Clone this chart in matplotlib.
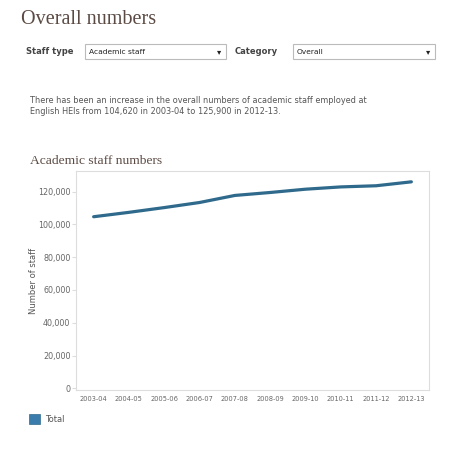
import matplotlib.pyplot as plt
from matplotlib.patches import Rectangle
from matplotlib.ticker import FuncFormatter

# data
years = ['2003-04', '2004-05', '2005-06', '2006-07', '2007-08',
         '2008-09', '2009-10', '2010-11', '2011-12', '2012-13']
total = [104620, 107300, 110200, 113300, 117600,
         119400, 121400, 122800, 123500, 125900]
y_ticks = [0, 20000, 40000, 60000, 80000, 100000, 120000]

W, H = 457, 450
fig = plt.figure(figsize=(W / 100, H / 100), dpi=100)
fig.patch.set_facecolor('white')

def fx(px):
    return px / W

def fy(py):
    return 1 - py / H

brown = '#5b4a43'
grey_txt = '#555555'

# heading
fig.text(fx(21), fy(24), 'Overall numbers', family='Liberation Serif', fontsize=14.5,
         color=brown, va='baseline')

# dropdown controls
fig.text(fx(26), fy(54), 'Staff type', fontsize=6.0, fontweight='bold', color='#444444', va='baseline')
fig.text(fx(235), fy(54), 'Category', fontsize=6.0, fontweight='bold', color='#444444', va='baseline')
for x0, x1, label in [(85, 226, 'Academic staff'), (293, 435, 'Overall')]:
    fig.patches.append(Rectangle((fx(x0), fy(59)), fx(x1 - x0), (59 - 44) / H,
                                 transform=fig.transFigure, facecolor='white',
                                 edgecolor='#bbbbbb', lw=0.8))
    fig.text(fx(x0 + 4), fy(54.5), label, fontsize=5.4, color='#222222', va='baseline')
    fig.text(fx(x1 - 9), fy(54), '\u25BE', fontsize=6, color='#222222', va='baseline')

# description
fig.text(fx(30), fy(103), 'There has been an increase in the overall numbers of academic staff employed at',
         fontsize=5.9, color=grey_txt, va='baseline')
fig.text(fx(30), fy(113.5), 'English HEIs from 104,620 in 2003-04 to 125,900 in 2012-13.',
         fontsize=5.9, color=grey_txt, va='baseline')

# chart title
fig.text(fx(30), fy(164), 'Academic staff numbers', family='Liberation Serif', fontsize=9.7,
         color=brown, va='baseline')

# chart
ax = fig.add_axes([fx(76), fy(390), fx(429 - 76), (390 - 171) / H])
x = list(range(len(years)))
ax.plot(x, total, color='#2f6a8c', lw=2.3, solid_capstyle='round')
ax.set_xlim(-0.5, len(years) - 0.5)
ax.set_ylim(-1000, 132500)
ax.set_xticks(x)
ax.set_xticklabels(years)
ax.set_yticks(y_ticks)
ax.yaxis.set_major_formatter(FuncFormatter(lambda v, p: f'{int(v):,}'))
ax.tick_params(axis='x', length=0, labelsize=4.8, labelcolor='#666666', pad=4)
ax.tick_params(axis='y', length=3, color='#dddddd', labelsize=5.8, labelcolor='#666666', pad=1)
for s in ax.spines.values():
    s.set_color('#dddddd')
    s.set_linewidth(0.8)
ax.set_ylabel('Number of staff', fontsize=6, color='#555555', labelpad=0)

# legend
fig.patches.append(Rectangle((fx(29), fy(424)), fx(11), 10 / H, transform=fig.transFigure,
                             facecolor='#3a7cab', edgecolor='#2f6a8c', lw=0.5))
fig.text(fx(45), fy(422), 'Total', fontsize=6, color='#555555', va='baseline')

fig.savefig('out.png', dpi=100, facecolor='white')
